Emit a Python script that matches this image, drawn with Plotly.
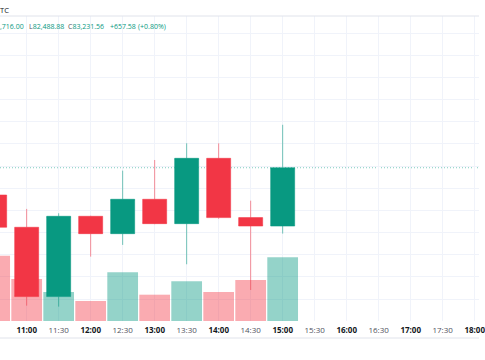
import plotly.graph_objects as go

# ---- data (30-minute BTC candles) ----
day = "2025-03-28"
times = ["10:30", "11:00", "11:30", "12:00", "12:30", "13:00", "13:30", "14:00", "14:30", "15:00"]
opens = [82924, 82560, 81778, 82684, 82488, 82876, 82601, 83338, 82669, 82573.98]
highs = [82980, 82767, 82718, 82690, 83199, 83319, 83508, 83507, 82860, 83716.00]
lows = [82430, 81676, 81665, 82229, 82361, 82595, 82143, 82657, 81853, 82488.88]
closes = [82560, 81778, 82684, 82488, 82876, 82601, 83338, 82669, 82573.98, 83231.56]
volumes = [653, 420, 290, 200, 487, 263, 397, 290, 410, 637]

tick_times = ["11:00", "11:30", "12:00", "12:30", "13:00", "13:30", "14:00", "14:30",
              "15:00", "15:30", "16:00", "16:30", "17:00", "17:30", "18:00"]

UP = "#089981"
DOWN = "#F23645"
GRID = "#F0F3FA"

x = [f"{day} {t}" for t in times]
vol_colors = ["rgba(8,153,129,0.43)" if c >= o else "rgba(242,54,69,0.42)"
              for o, c in zip(opens, closes)]

fig = go.Figure()

fig.add_trace(go.Bar(
    x=x, y=volumes, marker=dict(color=vol_colors, line=dict(width=0)),
    yaxis="y", hoverinfo="skip", showlegend=False,
))

fig.add_trace(go.Candlestick(
    x=x, open=opens, high=highs, low=lows, close=closes, yaxis="y2",
    increasing=dict(fillcolor=UP, line=dict(color="rgba(8,153,129,0.55)", width=1)),
    decreasing=dict(fillcolor=DOWN, line=dict(color="rgba(242,54,69,0.55)", width=1)),
    whiskerwidth=0, hoverinfo="skip", showlegend=False,
))

tickvals = [f"{day} {t}" for t in tick_times]
ticktext = []
for t in tick_times:
    if t.endswith(":00"):
        ticktext.append(f"<b>{t}</b>")
    else:
        ticktext.append(f"<span style='color:#50535E'>{t}</span>")

last_close = closes[-1]
prev_close = closes[-2]
change = last_close - prev_close
pct = change / prev_close * 100

PLOT_T, PLOT_B = 16, 39
plot_h = 360 - PLOT_T - PLOT_B

fig.update_layout(
    width=485, height=360,
    margin=dict(l=0, r=0, t=PLOT_T, b=PLOT_B),
    paper_bgcolor="white", plot_bgcolor="white",
    showlegend=False,
    bargap=0.04,
    boxgap=0.25, boxgroupgap=0,
    font=dict(family="Open Sans", size=8, color="#131722"),
    xaxis=dict(
        type="date",
        range=[f"{day} 10:35:00", f"{day} 18:04:04"],
        tickvals=tickvals, ticktext=ticktext,
        showgrid=True, gridcolor=GRID, gridwidth=1,
        zeroline=False, showline=False,
        ticks="", ticklabelstandoff=3, ticklabeloverflow="allow",
        tickfont=dict(family="Open Sans", size=8, color="#131722"),
        rangeslider=dict(visible=False),
        fixedrange=True,
    ),
    yaxis=dict(
        range=[0, 3050], showgrid=False, showticklabels=False,
        zeroline=False, showline=False, fixedrange=True,
    ),
    yaxis2=dict(
        overlaying="y", side="right",
        range=[81503, 84943], dtick=250, tick0=0,
        showgrid=True, gridcolor=GRID, gridwidth=1,
        showticklabels=False, zeroline=False, showline=False, fixedrange=True,
    ),
    shapes=[
        dict(type="line", xref="paper", yref="y2", x0=0, x1=1, y0=last_close, y1=last_close,
             line=dict(color="#7FCDBF", width=1, dash="1px,2px"), layer="below"),
        dict(type="line", xref="paper", yref="paper", x0=0, x1=1, y0=1, y1=1,
             line=dict(color="#E0E3EB", width=1)),
        dict(type="line", xref="paper", yref="paper", x0=0, x1=1,
             y0=-(338 - (360 - PLOT_B)) / plot_h, y1=-(338 - (360 - PLOT_B)) / plot_h,
             line=dict(color="#E0E3EB", width=1)),
    ],
)


def top_px_to_paper(ypix):
    return 1 + (PLOT_T - ypix) / plot_h


# legend row (left part of the chart is cropped, so only the visible tail is shown)
hi_txt = f"{highs[-1]:,.2f}"[2:]
legend_items = [
    (0, f"<span style='color:{UP}'>{hi_txt}</span>"),
    (29, f"L<span style='color:{UP}'>{lows[-1]:,.2f}</span>"),
    (69, f"C<span style='color:{UP}'>{last_close:,.2f}</span>"),
    (111, f"<span style='color:{UP}'>{change:+,.2f}</span>"),
    (140, f"<span style='color:{UP}'>({pct:+.2f}%)</span>"),
]
for px, txt in legend_items:
    fig.add_annotation(
        x=px / 485, y=top_px_to_paper(26), xref="paper", yref="paper",
        xanchor="left", yanchor="middle", showarrow=False, text=txt,
        font=dict(family="Open Sans", size=7, color="#50535E"),
        xshift=-2,
    )
fig.add_annotation(
    x=0, y=top_px_to_paper(10), xref="paper", yref="paper", xanchor="left", yanchor="middle",
    showarrow=False, text="TC", font=dict(family="Open Sans", size=7.5, color="#131722"),
    xshift=-2,
)

fig.write_html(
    "out.html",
    config={"displayModeBar": False, "staticPlot": True},
    post_script="document.body.style.margin='0';document.body.style.padding='0';",
)
